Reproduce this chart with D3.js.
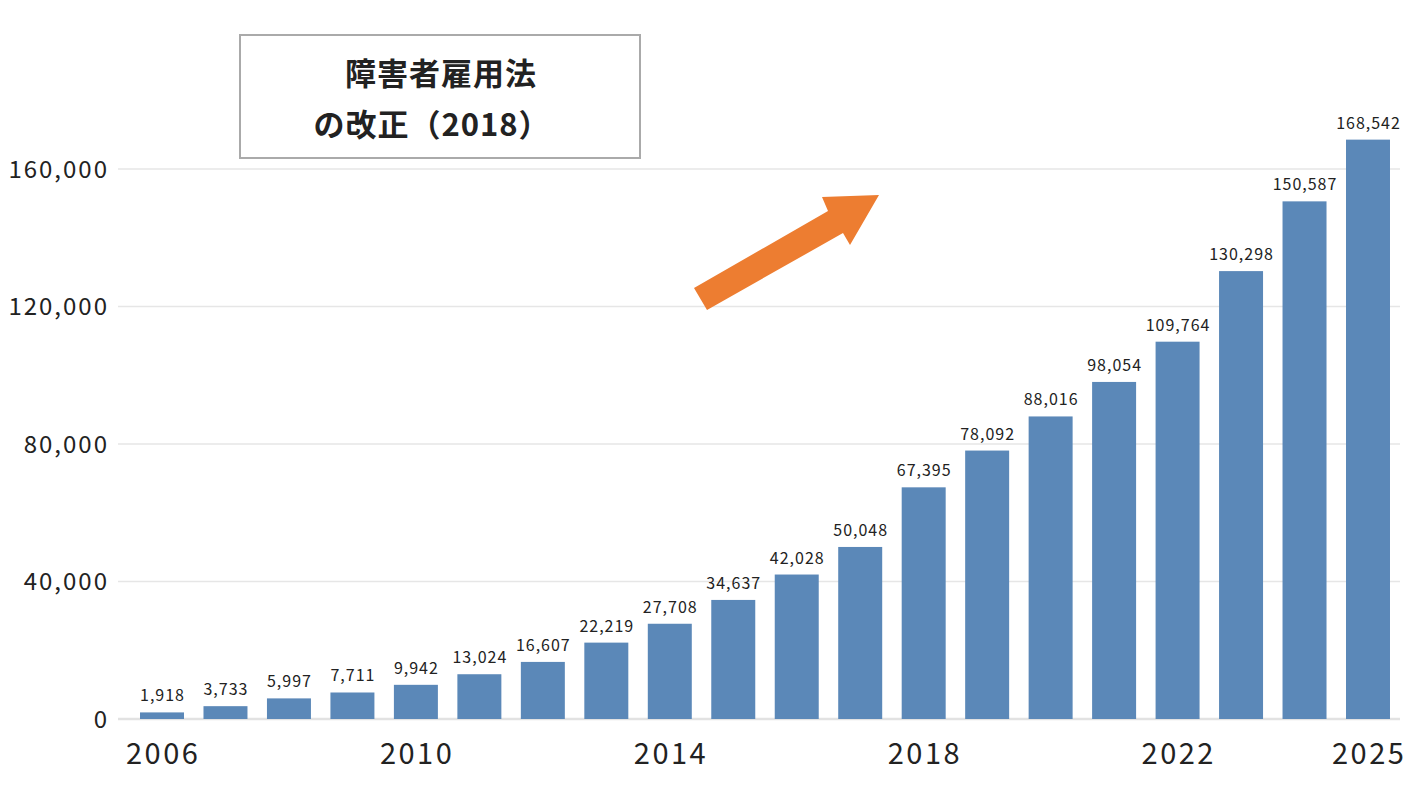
<!DOCTYPE html>
<html>
<head>
<meta charset="utf-8">
<script src="https://cdn.jsdelivr.net/npm/d3@7"></script>
<style>
  body { margin: 0; background: #fff; }
  text { font-family: "Noto Sans CJK JP", "Noto Sans", sans-serif; fill: #222; }
</style>
</head>
<body>
<div class="container"></div>
<script>
const years = d3.range(2006, 2026);
const values = [1918, 3733, 5997, 7711, 9942, 13024, 16607, 22219, 27708, 34637,
  42028, 50048, 67395, 78092, 88016, 98054, 109764, 130298, 150587, 168542];
const xTickYears = [2006, 2010, 2014, 2018, 2022, 2025];
const yTicks = [0, 40000, 80000, 120000, 160000];
const noteLines = ['障害者雇用法', 'の改正（2018）'];

let width = 1420;
let height = 790;

const svg = d3.select('.container')
    .append('svg')
    .attr('width', width)
    .attr('height', height);

let x = d3.scaleBand()
    .domain(years)
    .range([130.3, 1399.7])
    .paddingInner(0.307)
    .paddingOuter(0.153);

let y = d3.scaleLinear()
    .domain([0, 160000])
    .range([719, 169]);

// gridlines
svg.append('g')
    .selectAll('line')
    .data(yTicks)
    .enter()
    .append('line')
    .attr('x1', 118)
    .attr('x2', 1400)
    .attr('y1', d => y(d))
    .attr('y2', d => y(d))
    .attr('stroke', d => d === 0 ? '#e2e2e2' : '#e6e6e6')
    .attr('stroke-width', d => d === 0 ? 2.5 : 1.3);

// y labels
svg.append('g')
    .selectAll('text')
    .data(yTicks)
    .enter()
    .append('text')
    .attr('x', 109)
    .attr('y', d => y(d))
    .attr('dy', '0.36em')
    .attr('text-anchor', 'end')
    .style('font-size', '24px')
    .style('letter-spacing', '2px')
    .text(d => d3.format(',')(d));

// bars
svg.append('g')
    .selectAll('rect')
    .data(values)
    .enter()
    .append('rect')
    .attr('x', (d, i) => x(years[i]))
    .attr('width', x.bandwidth())
    .attr('y', d => y(d))
    .attr('height', d => y(0) - y(d))
    .attr('fill', '#5b88b8');

// value labels
svg.append('g')
    .selectAll('text')
    .data(values)
    .enter()
    .append('text')
    .attr('x', (d, i) => x(years[i]) + x.bandwidth() / 2 + 0.5)
    .attr('y', d => y(d) - 11)
    .attr('text-anchor', 'middle')
    .style('font-size', '16px')
    .style('letter-spacing', '1px')
    .text(d => d3.format(',')(d));

// x labels
svg.append('g')
    .selectAll('text')
    .data(xTickYears)
    .enter()
    .append('text')
    .attr('x', d => x(d) + x.bandwidth() / 2 + 1.2)
    .attr('y', 764)
    .attr('text-anchor', 'middle')
    .style('font-size', '29px')
    .style('letter-spacing', '2.5px')
    .text(d => d);

// annotation box
svg.append('rect')
    .attr('x', 240)
    .attr('y', 35)
    .attr('width', 400)
    .attr('height', 123)
    .attr('fill', '#fff')
    .attr('stroke', '#aaaaaa')
    .attr('stroke-width', 2);

svg.append('g')
    .selectAll('text')
    .data(noteLines)
    .enter()
    .append('text')
    .attr('x', (d, i) => i === 0 ? 441 : 432)
    .attr('y', (d, i) => 85 + i * 51)
    .attr('text-anchor', 'middle')
    .style('font-size', '31px')
    .style('font-weight', 'bold')
    .style('letter-spacing', '1px')
    .text(d => d);

// arrow
svg.append('path')
    .attr('d', 'M694,288 L828,211 L822,197 L879,195 L850,245 L843,233 L707,310 Z')
    .attr('fill', '#ed7d31');
</script>
</body>
</html>
